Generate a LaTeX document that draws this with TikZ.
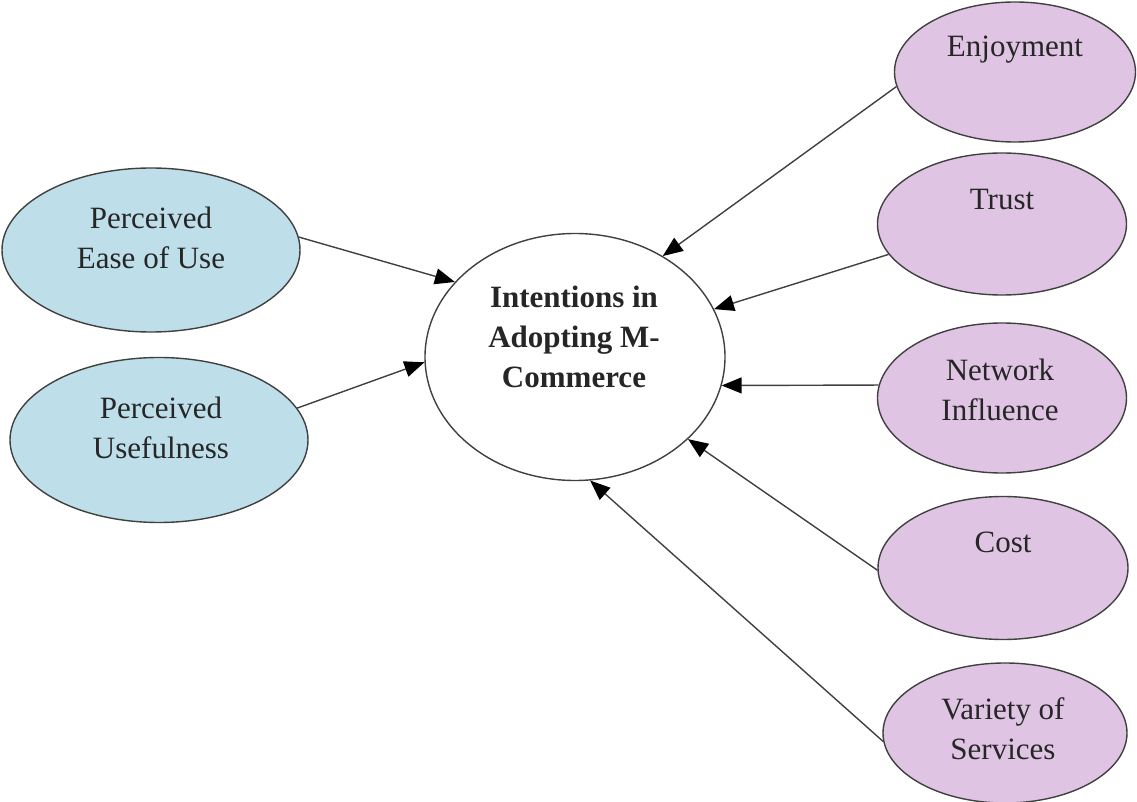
\documentclass[tikz,border=0pt]{standalone}
\usepackage{fontspec}
\setmainfont{Liberation Serif}
\usetikzlibrary{shapes.geometric,arrows.meta}
\definecolor{lblue}{HTML}{BEDFE9}
\definecolor{lpurple}{HTML}{DFC4E3}
\begin{document}
\begin{tikzpicture}[x=0.5pt,y=-0.5pt,
  oval/.style={ellipse,draw=black!75,line width=0.7pt,inner sep=0pt},
  blueoval/.style={oval,fill=lblue},
  purpleoval/.style={oval,fill=lpurple},
  lbl/.style={align=center,font=\fontsize{15.5}{20}\selectfont,text=black!85,inner sep=0pt},
  conn/.style={draw=black!75,line width=0.7pt,-{Triangle[length=10pt,width=8pt,fill=black,color=black]}}]
\useasboundingbox (0,0) rectangle (1137,802);
% ellipses
\node[blueoval,minimum width=149pt,minimum height=82pt] (peou) at (151,250) {};
\node[blueoval,minimum width=149pt,minimum height=82.5pt] (pu) at (159,440) {};
\node[oval,fill=white,minimum width=150pt,minimum height=123.5pt] (int) at (575,357) {};
\node[purpleoval,minimum width=120.5pt,minimum height=70pt] (enj) at (1015,72) {};
\node[purpleoval,minimum width=124.5pt,minimum height=71pt] (trust) at (1002,224) {};
\node[purpleoval,minimum width=124.5pt,minimum height=75pt] (net) at (1002,398) {};
\node[purpleoval,minimum width=125pt,minimum height=71.5pt] (cost) at (1003,568) {};
\node[purpleoval,minimum width=122pt,minimum height=70pt] (var) at (1005,733) {};
% labels
\node[lbl] (peoul) at (151,238) {Perceived\\Ease of Use};
\node[lbl] (pul) at (161,428) {Perceived\\Usefulness};
\node[lbl,font=\fontsize{15.5}{20}\selectfont\bfseries] (intl) at (574,337) {Intentions in\\Adopting M-\\Commerce};
\node[lbl] (enjl) at (1015,50) {Enjoyment};
\node[lbl] (trustl) at (1002,200) {Trust};
\node[lbl] (netl) at (1000,390) {Network\\Influence};
\node[lbl] (costl) at (1003,542) {Cost};
\node[lbl] (varl) at (1003,729) {Variety of\\Services};
% connectors
\draw[conn] (peou.5) -- (int.148);
\draw[conn] (pu.13) -- (int.182);
\draw[conn] (enj.187) -- (int.49);
\draw[conn] (trust.195) -- (int.19);
\draw[conn] (net.174) -- (int.349);
\draw[conn] (cost.181) -- (int.324);
\draw[conn] (var.184) -- (int.277);
\end{tikzpicture}
\end{document}
